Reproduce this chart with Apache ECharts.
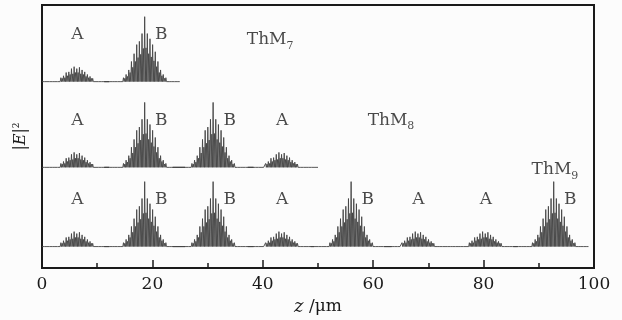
<!DOCTYPE html>
<html>
<head>
<meta charset="utf-8">
<script src="https://cdn.jsdelivr.net/npm/echarts@6/dist/echarts.min.js"></script>
<style>
  html, body { margin: 0; padding: 0; background: #fcfcfc; }
  #chart { width: 622px; height: 320px; }
</style>
</head>
<body>
<div id="chart"></div>
<script>
// packet centres along z (um)
const packetCenters = [6.3, 18.6, 31.0, 43.4, 56.0, 68.1, 80.3, 92.7];
// Thue-Morse sequences for the three structures
const seqThM7 = ["A", "B"];
const seqThM8 = ["A", "B", "B", "A"];
const seqThM9 = ["A", "B", "B", "A", "B", "A", "A", "B"];
// where each trace ends (um) and its vertical offset (B peak = 1)
const traceEnd = [25, 50, 99];
const traceBase = [2.87, 1.55, 0.33];
const traceNames = ["7", "8", "9"];

// spike heights inside one packet, step 0.24 um, normalised to B peak
const spikeStep = 0.24;
const spikesB = [0.01, 0.005, 0.015, 0.005, 0.01, 0.01, 0.02, 0.01, 0.02, 0.01,
  0.02, 0.02, 0.03, 0.03, 0.06, 0.05, 0.11, 0.08, 0.18, 0.14, 0.31, 0.22, 0.43, 0.31, 0.57, 0.37, 0.62, 0.42, 0.74, 0.51,
  1.00, 0.52, 0.74, 0.43, 0.66, 0.38, 0.57, 0.32, 0.46, 0.23, 0.31, 0.14, 0.18, 0.09, 0.11, 0.05, 0.06, 0.03, 0.03, 0.02, 0.02,
  0.01, 0.02, 0.01, 0.015, 0.01, 0.01, 0.005, 0.015, 0.005, 0.01];
const spikesA = [0.005, 0.01, 0.005, 0.01, 0.005, 0.01, 0.01,
  0.02, 0.02, 0.02, 0.02, 0.03, 0.03, 0.06, 0.05, 0.09, 0.06, 0.14, 0.09, 0.15, 0.11, 0.20, 0.12, 0.23, 0.14,
  0.20, 0.14, 0.22, 0.12, 0.18, 0.11, 0.15, 0.08, 0.11, 0.06, 0.08, 0.05, 0.05, 0.03, 0.03, 0.02, 0.02, 0.02, 0.02,
  0.01, 0.01, 0.005, 0.01, 0.005, 0.01, 0.005];

const xTicks = [0, 20, 40, 60, 80, 100];

const serif = "DejaVu Serif";
const ink = "#1a1a1a";

const buildTrace = (seq, base, end) => {
  const pts = [[0, base]];
  seq.forEach((kind, i) => {
    const spikes = kind === "A" ? spikesA : spikesB;
    const mid = (spikes.length - 1) / 2;
    spikes.forEach((h, k) => {
      const x = packetCenters[i] + (k - mid) * spikeStep;
      pts.push([x - spikeStep / 2, base]);
      pts.push([x, base + h]);
    });
    pts.push([packetCenters[i] + (mid + 0.5) * spikeStep, base]);
  });
  // the trace stops at the end of the structure
  const kept = pts.filter((p) => p[0] < end);
  kept.push([end, base]);
  return kept;
};

const seqs = [seqThM7, seqThM8, seqThM9];

// A / B annotations and ThM labels
const letterData = [];
seqs.forEach((seq, t) => {
  seq.forEach((kind, i) => {
    const dz = kind === "A" ? 0.1 : 3.0;
    letterData.push({ value: [packetCenters[i] + dz, traceBase[t] + 0.72], name: kind });
  });
});
const thmPos = [[37.1, 3.51], [59.0, 2.27], [88.7, 1.51]];
const thmData = thmPos.map((p, t) => ({ value: p, name: traceNames[t] }));

const myChart = echarts.init(document.getElementById("chart"));

const option = {
  backgroundColor: "#fcfcfc",
  animation: false,
  grid: {
    left: 42,
    right: 28,
    top: 5,
    bottom: 52,
    outerBoundsMode: "none",
    show: true,
    borderColor: ink,
    borderWidth: 2,
    backgroundColor: "transparent",
  },
  xAxis: {
    type: "value",
    min: 0,
    max: 100,
    interval: 20,
    axisLine: { show: true, lineStyle: { color: ink, width: 2 } },
    axisTick: { show: true, inside: true, length: 8, lineStyle: { color: ink, width: 1.5 } },
    minorTick: { show: true, splitNumber: 2, length: 5, lineStyle: { color: ink, width: 1.5 } },
    splitLine: { show: false },
    axisLabel: {
      color: ink,
      fontFamily: serif,
      fontSize: 17,
      margin: 8,
      formatter: (v) => (xTicks.includes(v) ? String(v) : ""),
    },
    name: "{i|z} /μm",
    nameLocation: "middle",
    nameGap: 30,
    nameTextStyle: {
      color: ink,
      fontFamily: serif,
      fontSize: 17,
      rich: {
        i: { fontFamily: serif, fontStyle: "italic", fontSize: 18, color: ink },
      },
    },
  },
  yAxis: {
    type: "value",
    min: 0,
    max: 4.05,
    axisLine: { show: true, lineStyle: { color: ink, width: 2 } },
    axisTick: { show: false },
    axisLabel: { show: false },
    splitLine: { show: false },
    name: "|{i|E}|{s|2}",
    nameLocation: "middle",
    nameRotate: 90,
    nameGap: 13,
    nameTextStyle: {
      color: ink,
      fontFamily: serif,
      fontSize: 16,
      rich: {
        i: { fontFamily: serif, fontStyle: "italic", fontSize: 16, color: ink },
        s: { fontFamily: serif, fontSize: 9, color: ink, verticalAlign: "top", padding: [0, 0, 8, 0] },
      },
    },
  },
  series: [
    ...seqs.map((seq, t) => ({
      type: "line",
      name: "ThM" + traceNames[t],
      data: buildTrace(seq, traceBase[t], traceEnd[t]),
      showSymbol: false,
      symbol: "none",
      lineStyle: { color: "#444", width: 0.9 },
      silent: true,
    })),
    {
      type: "scatter",
      data: letterData,
      symbolSize: 0,
      silent: true,
      label: {
        show: true,
        position: "inside",
        formatter: (p) => p.name,
        color: ink,
        fontFamily: serif,
        fontSize: 17,
      },
    },
    {
      type: "scatter",
      data: thmData,
      symbolSize: 0,
      silent: true,
      label: {
        show: true,
        position: "right",
        distance: 0,
        formatter: (p) => "ThM{s|" + p.name + "}",
        color: ink,
        fontFamily: serif,
        fontSize: 17,
        rich: {
          s: { fontFamily: serif, fontSize: 11, color: ink, padding: [12, 0, 0, 0] },
        },
      },
    },
  ],
};

option && myChart.setOption(option);
</script>
</body>
</html>
